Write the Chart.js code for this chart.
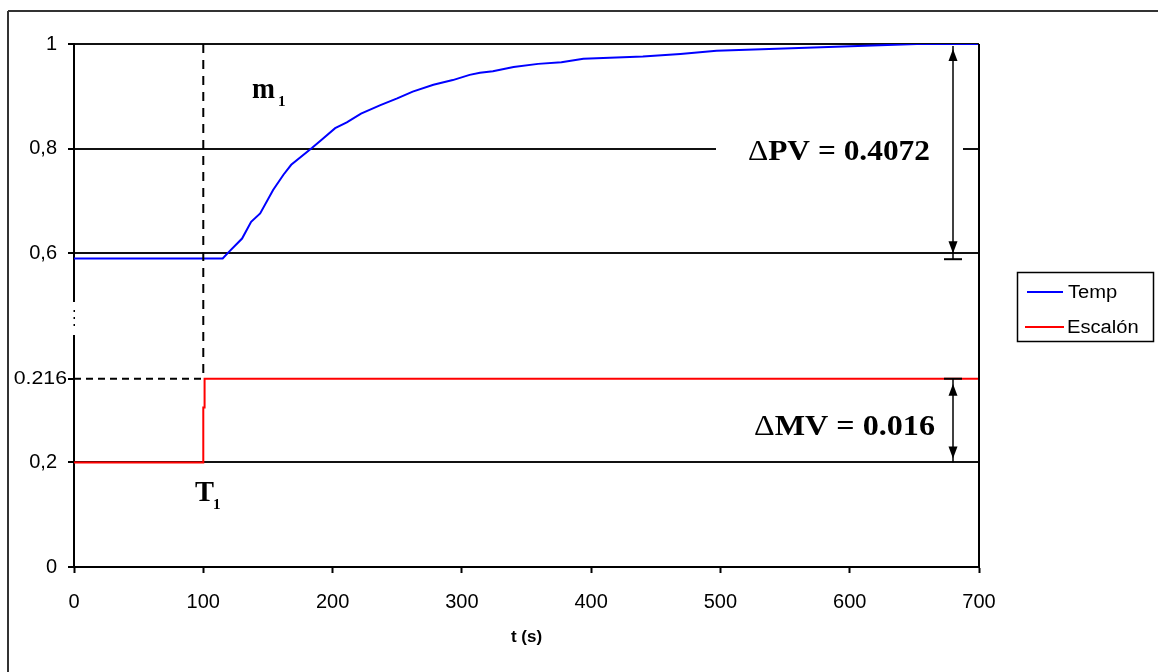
<!DOCTYPE html>
<html><head><meta charset="utf-8">
<script src="https://cdn.jsdelivr.net/npm/chart.js@4/dist/chart.umd.min.js"></script>
<style>html,body{margin:0;padding:0;background:#fff;overflow:hidden}#wrap{width:1158px;height:672px;position:relative}</style>
</head><body><div id="wrap"><canvas id="c" width="1158" height="672"></canvas></div>
<script>
// ---- data ----
const tempTime   = [0, 115, 120, 130, 137, 144, 154, 162, 168, 184, 192, 202, 211, 222, 237, 250, 262, 278, 293, 306, 314, 324, 340, 359, 377, 394, 440, 469, 497, 555, 652, 700];
const tempValues = [0.59, 0.59, 0.603, 0.628, 0.66, 0.676, 0.721, 0.75, 0.769, 0.801, 0.818, 0.839, 0.85, 0.867, 0.883, 0.896, 0.909, 0.922, 0.931, 0.941, 0.945, 0.948, 0.956, 0.962, 0.965, 0.972, 0.976, 0.981, 0.987, 0.992, 1.0, 1.0];
const stepTime   = [0, 100, 100, 101, 101, 700];
const stepValues = [0.2, 0.2, 0.305, 0.305, 0.36, 0.36];
const seriesNames = ['Temp', 'Escalón'];
const xTickValues = [0, 100, 200, 300, 400, 500, 600, 700];
const yTickValues = [0, 0.2, 0.36, 0.6, 0.8, 1];
const yTickLabels = ['0', '0,2', '', '0,6', '0,8', '1'];
const stepLevelValue = 0.36;
const stepLevelLabel = '0.216';
const stepTimeT1 = 100;
const pvLow = 0.6, pvHigh = 1.0, mvLow = 0.2;
const pvText = ['Δ', 'PV = 0.4072'];
const mvText = ['Δ', 'MV = 0.016'];
const xTitle = 't (s)';

function txt(ctx, s, x, y, font, sx, align, base) {
  ctx.save();
  ctx.font = font;
  ctx.textBaseline = base || 'alphabetic';
  const w = ctx.measureText(s).width * sx;
  let x0 = x;
  if (align === 'right') x0 = x - w;
  else if (align === 'center') x0 = x - w / 2;
  ctx.translate(x0, y);
  ctx.scale(sx, 1);
  ctx.textAlign = 'left';
  ctx.fillText(s, 0, 0);
  ctx.restore();
  return w;
}
function segText(ctx, segs, x, y, targetW) {
  // segs: [text, font]
  ctx.save();
  let total = 0;
  segs.forEach(([s, f]) => { ctx.font = f; total += ctx.measureText(s).width; });
  const sx = targetW / total;
  let cx = x;
  segs.forEach(([s, f]) => { cx += txt(ctx, s, cx, y, f, sx, 'left'); });
  ctx.restore();
}
function arrowHead(ctx, x, tipY, dir) {
  // dir -1 pointing up, +1 pointing down
  ctx.beginPath();
  ctx.moveTo(x, tipY);
  ctx.lineTo(x - 4.5, tipY - dir * 12);
  ctx.lineTo(x + 4.5, tipY - dir * 12);
  ctx.closePath();
  ctx.fill();
}
function line(ctx, x1, y1, x2, y2) {
  ctx.beginPath(); ctx.moveTo(x1, y1); ctx.lineTo(x2, y2); ctx.stroke();
}

const deco = {
  id: 'deco',
  afterDatasetsDraw(chart) {
    const ctx = chart.ctx, xs = chart.scales.x, ys = chart.scales.y, ca = chart.chartArea;
    ctx.save();
    ctx.fillStyle = '#000'; ctx.strokeStyle = '#000';
    // right border of plot
    ctx.lineWidth = 2;
    line(ctx, ca.right, ca.top, ca.right, ca.bottom);
    // outer frame
    ctx.strokeStyle = '#333';
    line(ctx, 8, 11, 1160, 11);
    line(ctx, 8, 11, 8, 680);
    ctx.strokeStyle = '#000';
    // dashed T1 and step level lines
    const xT = xs.getPixelForValue(stepTimeT1);
    const yS = ys.getPixelForValue(stepLevelValue);
    ctx.setLineDash([9, 7]);
    line(ctx, xT, ca.top, xT, yS - 4);
    ctx.setLineDash([7, 5]);
    line(ctx, ca.left, yS, xT, yS);
    ctx.setLineDash([]);
    // axis break on y axis
    ctx.fillStyle = '#fff';
    ctx.fillRect(ca.left - 2, 302, 4, 33);
    ctx.fillStyle = '#000';
    [310, 317, 324].forEach(y => ctx.fillRect(ca.left - 0.5, y, 1.5, 2));
    // 0.216 label + tick
    ctx.fillStyle = '#000';
    txt(ctx, stepLevelLabel, ca.left - 7, yS, '19px "Liberation Sans", Arial, sans-serif', 1.12, 'right', 'middle');
    // m1 and T1
    txt(ctx, 'm', 252, 98, 'bold 29px "Liberation Serif", "Times New Roman", serif', 0.95, 'left');
    txt(ctx, '1', 278, 106, 'bold 15px "Liberation Serif", "Times New Roman", serif', 1, 'left');
    txt(ctx, 'T', 195, 501, 'bold 30px "Liberation Serif", "Times New Roman", serif', 0.95, 'left');
    txt(ctx, '1', 213, 509, 'bold 15px "Liberation Serif", "Times New Roman", serif', 1, 'left');
    // PV annotation
    const ax = 953;
    const yPvH = ys.getPixelForValue(pvHigh), yPvL = ys.getPixelForValue(pvLow);
    const y08 = ys.getPixelForValue(0.8);
    ctx.fillStyle = '#fff';
    ctx.fillRect(716, y08 - 14, 247, 28);
    ctx.fillStyle = '#000';
    segText(ctx, [[pvText[0], '30px "Liberation Serif", serif'], [pvText[1], 'bold 30px "Liberation Serif", serif']], 748, y08 + 11, 182);
    ctx.lineWidth = 1.5;
    line(ctx, ax, yPvH + 2, ax, yPvL + 6);
    arrowHead(ctx, ax, yPvH + 5, -1);
    arrowHead(ctx, ax, yPvL, 1);
    ctx.lineWidth = 2;
    line(ctx, ax - 9, yPvL + 6, ax + 9, yPvL + 6);
    // MV annotation
    const yMvL = ys.getPixelForValue(mvLow);
    segText(ctx, [[mvText[0], '30px "Liberation Serif", serif'], [mvText[1], 'bold 30px "Liberation Serif", serif']], 754, 435, 181);
    ctx.lineWidth = 1.5;
    line(ctx, ax, yS, ax, yMvL);
    arrowHead(ctx, ax, yS + 5, -1);
    arrowHead(ctx, ax, yMvL - 4, 1);
    ctx.lineWidth = 2;
    line(ctx, ax - 9, yS, ax + 9, yS);
    // legend
    ctx.lineWidth = 1.5;
    ctx.strokeRect(1017.5, 272.5, 136, 69);
    const ds = chart.data.datasets;
    const rows = [[292, 1027, 1063, 1068], [327, 1025, 1064, 1067]];
    rows.forEach((r, i) => {
      ctx.strokeStyle = ds[i].borderColor; ctx.lineWidth = 2;
      line(ctx, r[1], r[0], r[2], r[0]);
      ctx.fillStyle = '#000';
      txt(ctx, ds[i].label, r[3], r[0] + 1, '18px "Liberation Sans", Arial, sans-serif', 1.12, 'left', 'middle');
    });
    ctx.restore();
  }
};

new Chart(document.getElementById('c'), {
  type: 'line',
  data: {
    datasets: [
      { label: seriesNames[0], data: tempTime.map((t, i) => ({ x: t, y: tempValues[i] })), borderColor: '#0000ff', borderWidth: 2, pointRadius: 0, tension: 0, fill: false },
      { label: seriesNames[1], data: stepTime.map((t, i) => ({ x: t, y: stepValues[i] })), borderColor: '#ff0000', borderWidth: 2, pointRadius: 0, tension: 0, fill: false }
    ]
  },
  options: {
    responsive: false,
    animation: false,
    devicePixelRatio: 1,
    layout: { padding: { left: 0, top: 44, right: 179, bottom: 0 } },
    plugins: { legend: { display: false }, tooltip: { enabled: false } },
    scales: {
      x: {
        type: 'linear', min: 0, max: 700,
        afterBuildTicks: s => { s.ticks = xTickValues.map(v => ({ value: v })); },
        afterFit: s => { s.height = 105; },
        border: { display: true, color: '#000', width: 2 },
        grid: { drawOnChartArea: false, drawTicks: true, tickLength: 6, tickColor: '#000', tickWidth: 2 },
        ticks: { color: '#000', padding: 17, maxRotation: 0, font: { family: '"Liberation Sans", Arial, sans-serif', size: 20 } },
        title: { display: true, text: xTitle, color: '#000', font: { family: '"Liberation Sans", Arial, sans-serif', size: 17, weight: 'bold' }, padding: { top: 0, bottom: 24 } }
      },
      y: {
        type: 'linear', min: 0, max: 1,
        afterBuildTicks: s => { s.ticks = yTickValues.map(v => ({ value: v })); },
        afterFit: s => { s.width = 74; },
        border: { display: true, color: '#000', width: 2 },
        grid: {
          drawTicks: true, tickLength: 6, tickWidth: 2, tickColor: '#000', lineWidth: 2,
          color: c => (c.tick && (c.tick.value === 0 || c.tick.value === stepLevelValue)) ? 'rgba(0,0,0,0)' : '#111'
        },
        ticks: {
          color: '#000', padding: 11,
          font: { family: '"Liberation Sans", Arial, sans-serif', size: 20 },
          callback: (v) => { const i = yTickValues.indexOf(v); return i >= 0 ? yTickLabels[i] : ''; }
        }
      }
    }
  },
  plugins: [deco]
});
</script>
</body></html>
